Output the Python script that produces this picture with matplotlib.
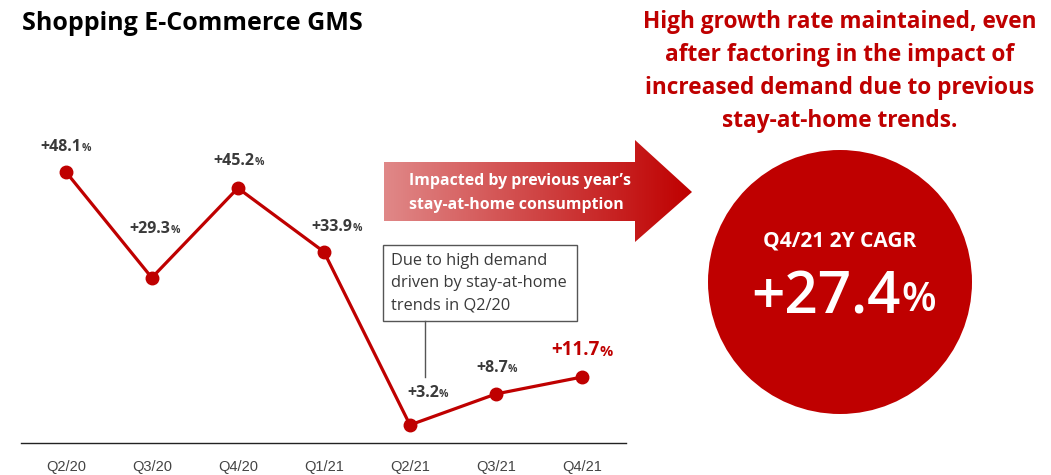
import numpy as np
import matplotlib.pyplot as plt
from matplotlib.patches import Polygon, Rectangle, Circle

# ---------- DATA ----------
quarters = ["Q2/20", "Q3/20", "Q4/20", "Q1/21", "Q2/21", "Q3/21", "Q4/21"]
growth = [48.1, 29.3, 45.2, 33.9, 3.2, 8.7, 11.7]

# label offsets from each point (pixels, right / up)
label_dx = [0, 3, 1, 13, 18, 1, 0]
label_dy = [25, 49, 27, 25, 32, 26, 27]

RED = "#bf0000"
GREY = "#3a3a3a"
FONT = "Open Sans"
W, H = 1051, 475

fig = plt.figure(figsize=(W / 100, H / 100), dpi=100)

# ---------- LINE CHART ----------
ax = fig.add_axes([21 / W, 1 - 443 / H, 605 / W, (443 - 161) / H])
x = np.arange(len(quarters))
ax.plot(x, growth, color=RED, lw=2.3, marker="o", ms=9, zorder=3, clip_on=False)
ax.set_xlim(-0.52, 6.51)
ax.set_ylim(0, 50)
for side in ["top", "right", "left"]:
    ax.spines[side].set_visible(False)
ax.spines["bottom"].set_color("#222222")
ax.spines["bottom"].set_linewidth(1.0)
ax.set_yticks([])
ax.set_xticks(x, quarters, fontfamily="Liberation Sans", fontsize=10.5, color="#444444")
ax.tick_params(axis="x", length=0, pad=12)


def pct_label(i, color, size, psize, shift):
    num = ax.annotate(f"+{growth[i]:.1f}", xy=(x[i], growth[i]),
                      xytext=(label_dx[i] - shift, label_dy[i]),
                      textcoords="offset pixels", ha="center", va="center",
                      fontfamily=FONT, fontweight="bold", fontsize=size, color=color)
    ax.annotate("%", xy=(1, 0), xycoords=num, xytext=(0, 1),
                textcoords="offset pixels", ha="left", va="bottom",
                fontfamily=FONT, fontweight="bold", fontsize=psize, color=color)


for i in range(len(growth) - 1):
    pct_label(i, GREY, 11.5, 7.5, 5)
pct_label(len(growth) - 1, RED, 13.5, 10.5, 7)

# ---------- OVERLAY (pixel coordinates) ----------
ov = fig.add_axes([0, 0, 1, 1])
ov.axis("off")

fig.text(22 / W, 1 - 24 / H, "Shopping E-Commerce GMS", ha="left", va="center",
         fontfamily=FONT, fontweight="bold", fontsize=18, color="black")

# gradient arrow
arrow_pts = [(384, 162), (635, 162), (635, 140), (692, 192), (635, 242),
             (635, 221), (384, 221)]
left_c = np.array([224, 136, 136]) / 255
right_c = np.array([191, 0, 0]) / 255
t = np.linspace(0, 1, 256)[:, None]
grad = (left_c * (1 - t) + right_c * t)[None, :, :]
im = ov.imshow(grad, extent=[384, 692, 242, 140], aspect="auto", zorder=2)
arrow = Polygon(arrow_pts, closed=True, facecolor="none", edgecolor="none",
                transform=ov.transData)
ov.add_patch(arrow)
im.set_clip_path(arrow)
ov.text(409, 181, "Impacted by previous year\u2019s", ha="left", va="center",
        fontfamily=FONT, fontweight="bold", fontsize=11.4, color="white", zorder=3)
ov.text(409, 205, "stay-at-home consumption", ha="left", va="center",
        fontfamily=FONT, fontweight="bold", fontsize=11.4, color="white", zorder=3)

# callout box
ov.add_patch(Rectangle((383, 245), 194, 76, facecolor="white", edgecolor="#555555",
                       lw=1.0, zorder=4))
ov.plot([425, 425], [321, 377], color="#555555", lw=1.0, zorder=4)
for j, line in enumerate(["Due to high demand", "driven by stay-at-home",
                          "trends in Q2/20"]):
    ov.text(391, 261 + 22 * j, line, ha="left", va="center", fontfamily=FONT,
            fontsize=11.8, color=GREY, zorder=5)

# right-hand message
msg = ["High growth rate maintained, even", "after factoring in the impact of",
       "increased demand due to previous", "stay-at-home trends."]
for j, line in enumerate(msg):
    ov.text(840, 22 + 33 * j, line, ha="center", va="center", fontfamily=FONT,
            fontweight="bold", fontsize=16.3, color=RED)

# CAGR circle
ov.add_patch(Circle((840, 282), 132, facecolor=RED, edgecolor="none", zorder=2))
ov.text(840, 241, "Q4/21 2Y CAGR", ha="center", va="center", fontfamily=FONT,
        fontweight="bold", fontsize=15, color="white", zorder=3)
big = ov.text(826, 299, "+27.4", ha="center", va="center", fontfamily=FONT,
              fontweight="semibold", fontsize=42, color="white", zorder=3)
ov.annotate("%", xy=(1, 0), xycoords=big, xytext=(1, 7), textcoords="offset pixels",
            ha="left", va="bottom", fontfamily=FONT, fontweight="semibold",
            fontsize=29, color="white", zorder=3)

ov.set_xlim(0, W)
ov.set_ylim(H, 0)

fig.savefig("out.png", dpi=100)
